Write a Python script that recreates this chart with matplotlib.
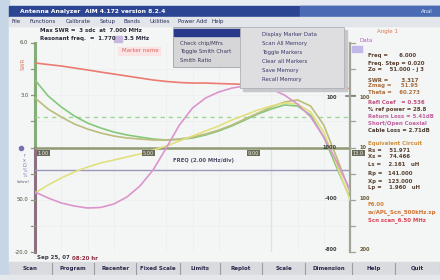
import matplotlib
matplotlib.use("Agg")
import matplotlib.pyplot as plt
from matplotlib.patches import Rectangle

# ---------------- data ----------------
freq = [1.0, 1.5, 2.0, 2.5, 3.0, 3.5, 4.0, 4.5, 5.0, 5.5, 6.0, 6.5, 7.0,
        7.5, 8.0, 8.5, 9.0, 9.5, 10.0, 10.5, 11.0, 11.5, 12.0, 12.5, 13.0]
swr_red = [80.9, 79.4, 78.0, 76.1, 74.2, 72.2, 70.3, 68.4, 66.5, 64.6, 63.2, 62.2, 61.7,
           61.7, 61.2, 60.8, 60.3, 59.8, 59.3, 58.9, 58.4, 57.9, 57.4, 56.9, 56.5]
rs_green = [64.6, 49.3, 38.8, 30.1, 23.4, 18.7, 14.8, 12.0, 10.0, 8.1, 7.2, 7.7, 9.1,
            12.0, 15.8, 20.6, 26.3, 32.1, 36.8, 40.7, 39.7, 31.1, 10.0, -19.6, -48.3]
z_olive = [47.4, 36.8, 29.2, 22.5, 17.7, 13.9, 11.0, 9.1, 8.1, 7.2, 7.2, 8.1, 10.0,
           12.9, 16.7, 21.5, 27.3, 33.0, 38.8, 43.5, 45.5, 39.7, 21.5, -10.0, -42.6]
rl_yellow = [-43.5, -35.9, -29.2, -23.4, -18.7, -14.8, -12.0, -9.1, -6.2, -2.4, 1.4, 6.2, 11.0,
             15.8, 20.6, 26.3, 31.1, 35.9, 39.7, 42.6, 41.6, 34.0, 14.8, -16.7, -50.2]
xs_pink = [-42.6, -48.3, -53.1, -56.0, -57.9, -57.4, -54.1, -47.4, -36.8, -21.5, -0.5, 21.5, 37.8,
           47.4, 53.1, 56.9, 58.9, 58.9, 56.0, 50.2, 41.6, 29.2, 10.0, -13.9, -40.7]
swr_ref_level = 29.2
rs_ref_level = -21.5
marker_freq = 10.0

x_ticks = [1, 5, 9, 13]
x_tick_labels = ["1.00", "5.00", "9.00", "13.0"]
left_labels = [(100, "6.0"), (50, "3.0"), (-50, "50.0"), (-100, "-20.0")]
right_left_labels = [(48, "100"), (0, "1000"), (-49, "-400"), (-98, "-800")]
right_right_labels = [(48, "100"), (0, "10"), (-49, "100"), (-98, "200")]

menu_items = ["File", "Functions", "Calibrate", "Setup", "Bands", "Utilities", "Power Add", "Help"]
menu_x = [12, 30, 66, 100, 124, 150, 178, 212]
sub_left = ["Check chip/Mfrs", "Toggle Smith Chart", "Smith Ratio"]
sub_right = ["Display Marker Data", "Scan All Memory", "Toggle Markers",
             "Clear all Markers", "Save Memory", "Recall Memory"]
buttons = ["Scan", "Program", "Recenter", "Fixed Scale", "Limits",
           "Replot", "Scale", "Dimension", "Help", "Quit"]
button_edges = [8, 52, 94, 136, 180, 220, 262, 305, 352, 395, 440]

info = [
    (56, "Freq =      6.000", "#5a4030"),
    (63, "Freq. Step = 0.020", "#5a4030"),
    (70, "Zo =    51.000 - j 3", "#5a4030"),
    (80, "SWR =       3.317", "#7a5030"),
    (86, "Zmag =     51.95", "#b07040"),
    (93, "Theta =    60.273", "#b07040"),
    (102, "Refl Coef   = 0.536", "#c05080"),
    (109, "% ref power = 28.8", "#5a4030"),
    (116, "Return Loss = 5.41dB", "#c060a0"),
    (123, "Short/Open Coaxial", "#c060a0"),
    (130, "Cable Loss = 2.71dB", "#4a3a30"),
    (143, "Equivalent Circuit", "#d09040"),
    (150, "Rs =    51.971", "#5a4030"),
    (157, "Xs =    74.466", "#5a4030"),
    (164, "Ls =    2.161   uH", "#5a4030"),
    (174, "Rp =   141.000", "#5a4030"),
    (181, "Xp =   123.000", "#5a4030"),
    (188, "Lp =    1.960   uH", "#5a4030"),
    (204, "F6.00", "#d08030"),
    (212, "sv/APL_Scn_500kHz.sp", "#d07030"),
    (220, "Scn scan_6.50 MHz", "#e04050"),
]

# ---------------- figure ----------------
fig = plt.figure(figsize=(4.4, 2.8), dpi=100)
fig.patch.set_facecolor("#eef1f3")

bg = fig.add_axes([0, 0, 1, 1], zorder=0)
bg.set_xlim(0, 440)
bg.set_ylim(280, 0)
bg.axis("off")

# desktop strip + window
bg.add_patch(Rectangle((0, 0), 440, 280, color="#e6ecf2"))
bg.add_patch(Rectangle((0, 0), 9, 280, color="#c6d6e6"))
bg.add_patch(Rectangle((9, 17), 431, 246, color="#f4f6f5"))
# title bar
bg.add_patch(Rectangle((9, 6), 431, 11, color="#2c4592"))
bg.add_patch(Rectangle((300, 6), 140, 11, color="#4a6cb4"))
bg.text(20, 11.5, "Antenna Analyzer", color="white", fontsize=4.3, va="center", weight="bold")
bg.text(85, 11.5, "AIM 4.172 version 8.2.4", color="white", fontsize=4.3, va="center", weight="bold")
bg.text(421, 11.5, "Anal", color="#e8eef8", fontsize=3.8, va="center")
# menu bar
bg.add_patch(Rectangle((9, 17), 431, 9, color="#e2e5ea"))
for mx, m in zip(menu_x, menu_items):
    bg.text(mx, 21.5, m, color="#2a2a5a", fontsize=4, va="center")
# info lines
bg.text(40, 30.5, "Max SWR =  3 sdc  at  7.000 MHz", color="#2a2a3a", fontsize=4, va="center", weight="bold")
bg.text(40, 38.5, "Resonant freq.  =  1.770", color="#2a2a3a", fontsize=4, va="center", weight="bold")
bg.add_patch(Rectangle((114, 35.5), 8, 6, color="#c8b8e0"))
bg.text(124, 38.5, "3.5 MHz", color="#2a2a3a", fontsize=4, va="center", weight="bold")
bg.add_patch(Rectangle((118, 47), 42, 8, color="#fbe4e4"))
bg.text(122, 51, "Marker name", color="#e06060", fontsize=4, va="center")
# bottom date
bg.text(37, 258, "Sep 25, 07", color="#3a3a4a", fontsize=4, va="center", weight="bold")
bg.text(72, 258, "08:20 hr", color="#8a2a3a", fontsize=4, va="center", weight="bold")
# buttons
bg.add_patch(Rectangle((9, 262), 431, 13, color="#d9dbdf"))
bg.add_patch(Rectangle((0, 275), 440, 5, color="#e4e8ec"))
for i, b in enumerate(buttons):
    x0, x1 = button_edges[i], button_edges[i + 1]
    bg.plot([x1, x1], [263, 274], color="#9a9ca4", lw=0.8)
    bg.text((x0 + x1) / 2, 268.5, b, color="#2a2a4a", fontsize=4, ha="center", va="center", weight="bold")
# right info panel
for y, t, c in info:
    bg.text(368, y, t, color=c, fontsize=3.9, va="center", weight="bold")
bg.text(377, 31, "Angle 1", color="#e07050", fontsize=4, va="center")
bg.plot([332, 346], [33, 33], color="#80c080", lw=1.5)
bg.text(359, 41, "Data", color="#b060c0", fontsize=4, va="center")
bg.add_patch(Rectangle((328, 46), 14, 6, color="#c0b8e8"))
bg.add_patch(Rectangle((352, 46), 10, 6, color="#c0b8e8"))

# ---------------- plot ----------------
ax = fig.add_axes([35 / 440, (280 - 252) / 280, 315 / 440, 209 / 280], zorder=1)
ax.set_facecolor("none")
ax.set_xlim(1, 13)
ax.set_ylim(-100, 100)
for s in ["top", "bottom"]:
    ax.spines[s].set_visible(False)
ax.spines["left"].set_visible(False)
ax.spines["right"].set_color("#9ea596")
ax.spines["right"].set_linewidth(1.6)
ax.set_xticks([])
ax.set_yticks([])

for gx in [2, 3, 4, 6, 7, 8, 10, 11, 12]:
    ax.axvline(gx, color="#eef0ee", lw=0.6, zorder=0)
for gy in [-75, -50, -25, 25, 50, 75]:
    ax.axhline(gy, color="#eef0ee", lw=0.6, zorder=0)

# left axis (two colours)
ax.plot([1, 1], [0, 100], color="#86ad78", lw=2.2, clip_on=False)
ax.plot([1, 1], [-100, 0], color="#8a7080", lw=2.2, clip_on=False)
for ty in range(-100, 101, 25):
    ax.plot([0.83, 1], [ty, ty], color="#8a9a80", lw=0.9, clip_on=False)
for ty in range(-100, 101, 25):
    ax.plot([13, 13.2], [ty, ty], color="#9ea596", lw=0.9, clip_on=False)
ax.plot([12.85, 13.2], [49, 49], color="#7a7f70", lw=1.2, clip_on=False)

ax.axhline(0, color="#8e9a74", lw=1.8, zorder=2)
ax.axhline(rs_ref_level, color="#9d96b8", lw=1.0, zorder=2)
ax.axhline(swr_ref_level, color="#9ed69a", lw=1.0, ls=(0, (3, 3)), zorder=2)
ax.plot([marker_freq, marker_freq], [-100, -2], color="#c8ecea", lw=1.0, zorder=1)

ax.plot(freq, swr_red, color="#ec7a70", lw=1.2, zorder=3)
ax.plot(freq, rs_green, color="#84c87c", lw=1.2, zorder=3)
ax.plot(freq, z_olive, color="#bcbc7c", lw=1.2, zorder=3)
ax.plot(freq, rl_yellow, color="#e2e07e", lw=1.2, zorder=3)
ax.plot(freq, xs_pink, color="#dc94cc", lw=1.2, zorder=3)

for tx, tl in zip(x_ticks, x_tick_labels):
    ax.text(tx + 0.1, -3, tl, fontsize=3.6, color="#f0f0e0", va="top", ha="left",
            bbox=dict(boxstyle="square,pad=0.15", fc="#6a6a5a", ec="none"))
ax.text(7.4, -12.5, "FREQ (2.00 MHz/div)", fontsize=3.8, color="#4a4a6a", ha="center",
        va="center", weight="bold")

for ty, tl in left_labels:
    ax.text(0.75, ty, tl, fontsize=3.8, color="#4a4a3a", ha="right", va="center")
ax.text(0.55, 80, "SWR", fontsize=3.8, color="#e07060", rotation=90, ha="center", va="center")
ax.plot([0.45], [0], "o", color="#7a70b0", ms=3, clip_on=False)
ax.text(0.6, -17, "r\nx\nΩ\n%\n%", fontsize=3.4, color="#7a78b8", ha="center", va="center",
        linespacing=1.0)
ax.text(0.55, -33, "(ohm)", fontsize=3.2, color="#5a5a7a", ha="center", va="center")
for ty, tl in right_left_labels:
    ax.text(12.5, ty, tl, fontsize=3.6, color="#3a3a3a", ha="right", va="center", weight="bold")
for ty, tl in right_right_labels:
    ax.text(13.35, ty, tl, fontsize=3.6, color="#6a5a3a", ha="left", va="center", weight="bold")

# ---------------- dropdown menus (on top) ----------------
top = fig.add_axes([0, 0, 1, 1], zorder=5)
top.set_facecolor("none")
top.set_xlim(0, 440)
top.set_ylim(280, 0)
top.axis("off")
top.add_patch(Rectangle((173, 27), 68, 40, fc="#d6d6d8", ec="#a0a0a8", lw=0.6))
top.add_patch(Rectangle((174, 28.5), 66, 7, color="#2a3a8a"))
for i, t in enumerate(sub_left):
    top.text(180, 43 + 9 * i, t, fontsize=3.9, color="#3a3a5a", va="center")
top.add_patch(Rectangle((243, 30), 104, 61, color="#c8c8cc"))
top.add_patch(Rectangle((240, 27), 104, 61, fc="#dedee0", ec="#b0b0b8", lw=0.6))
for i, t in enumerate(sub_right):
    top.text(262, 34.5 + 9 * i, t, fontsize=3.9, color="#3a3a6a", va="center")

fig.savefig("out.png", dpi=100)
